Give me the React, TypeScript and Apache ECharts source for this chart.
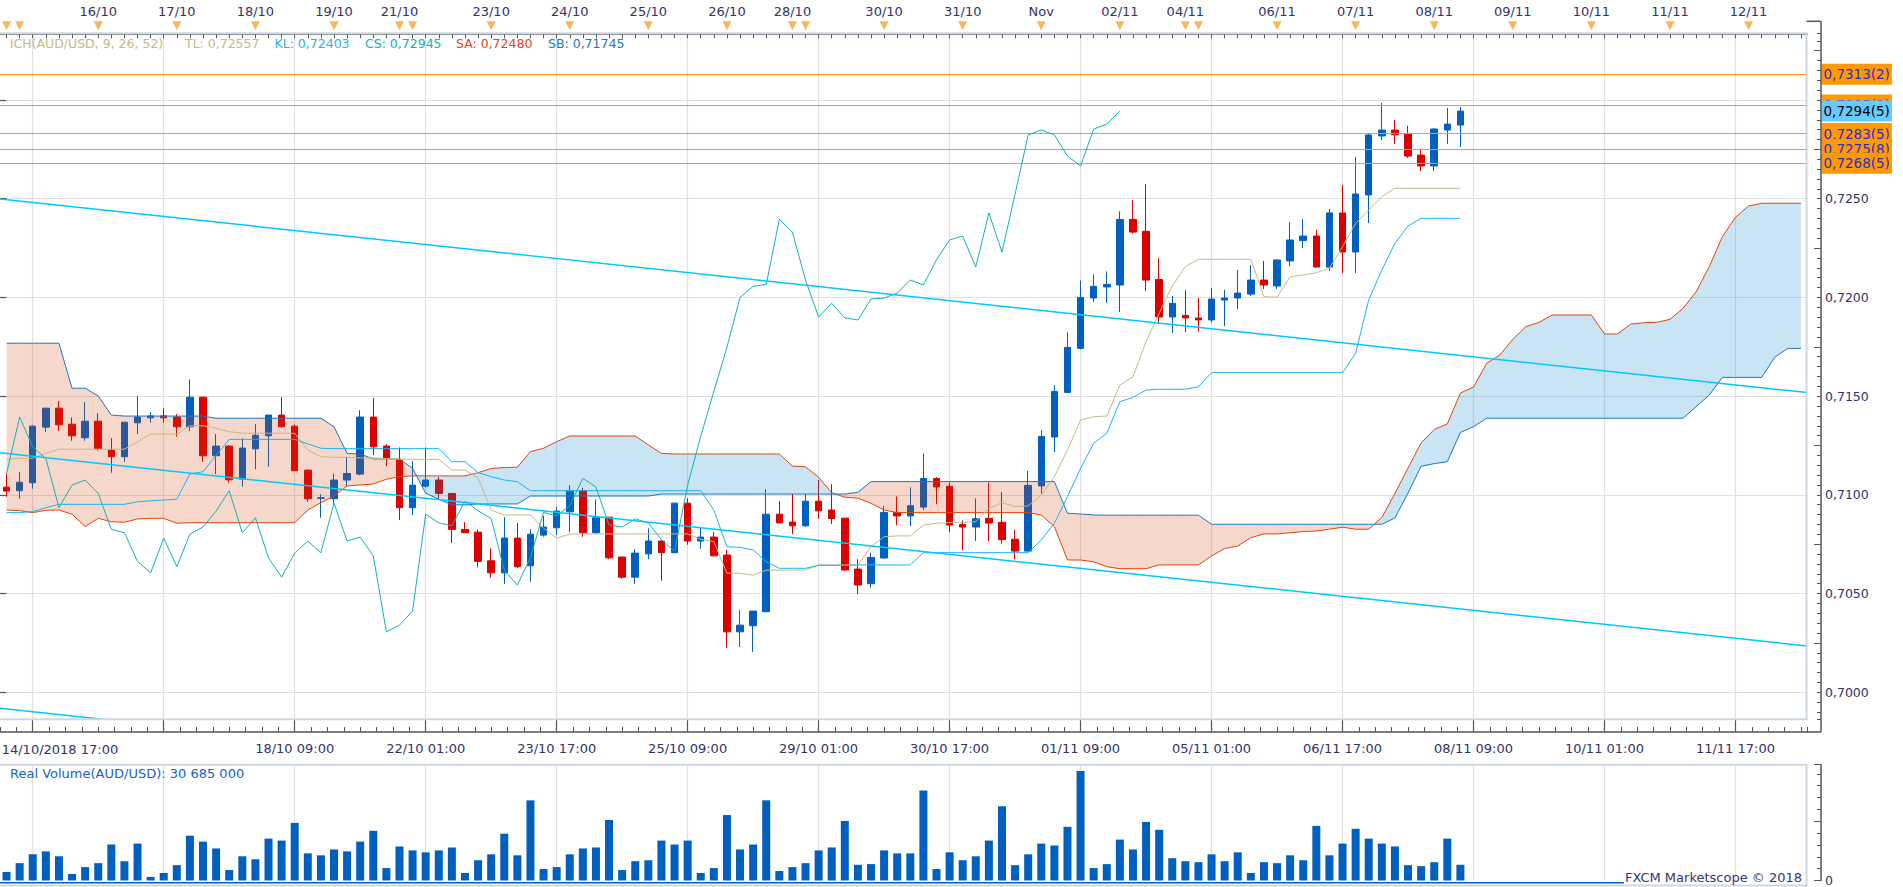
import React, { useEffect, useRef } from "react";
import * as echarts from "echarts";

const FONT = '"DejaVu Sans", Verdana, sans-serif';

// ---------- DATA ----------
const SLOT_COUNT = 138; // 112 candles + 26 future slots of the cloud

const OPEN = [
  0.71039, 0.71021, 0.71061, 0.71343, 0.71439, 0.71358, 0.71289, 0.71373, 0.71227, 0.71193,
  0.71365, 0.71390, 0.71400, 0.71394, 0.71345, 0.71495, 0.71198, 0.71247, 0.71080, 0.71233,
  0.71299, 0.71404, 0.71348, 0.71125, 0.70982, 0.70980, 0.71075, 0.71105, 0.71394, 0.71247,
  0.71176, 0.70935, 0.71044, 0.71075, 0.71007, 0.70825, 0.70811, 0.70666, 0.70605, 0.70781,
  0.70641, 0.70796, 0.70833, 0.70914, 0.71021, 0.70808, 0.70887, 0.70685, 0.70583, 0.70701,
  0.70766, 0.70707, 0.70958, 0.70766, 0.70786, 0.70695, 0.70306, 0.70337, 0.70408, 0.70902,
  0.70862, 0.70843, 0.70968, 0.70923, 0.70882, 0.70624, 0.70550, 0.70680, 0.70910, 0.70893,
  0.70938, 0.71083, 0.71043, 0.70850, 0.70837, 0.70881, 0.70861, 0.70775, 0.70715, 0.71045,
  0.71293, 0.71519, 0.71742, 0.71997, 0.72053, 0.72063, 0.72395, 0.72335, 0.72091, 0.71901,
  0.71909, 0.71896, 0.71886, 0.71987, 0.71997, 0.72017, 0.72088, 0.72058, 0.72185, 0.72288,
  0.72311, 0.72154, 0.72428, 0.72230, 0.72519, 0.72818, 0.72848, 0.72830, 0.72721, 0.72666,
  0.72848, 0.72873,
];
const HIGH = [
  0.71108, 0.71115, 0.71352, 0.71442, 0.71475, 0.71392, 0.71470, 0.71414, 0.71287, 0.71370,
  0.71500, 0.71419, 0.71439, 0.71409, 0.71584, 0.71497, 0.71308, 0.71252, 0.71287, 0.71358,
  0.71404, 0.71495, 0.71357, 0.71130, 0.71004, 0.71108, 0.71193, 0.71429, 0.71490, 0.71257,
  0.71240, 0.71171, 0.71240, 0.71091, 0.71007, 0.70862, 0.70825, 0.70728, 0.70887, 0.70858,
  0.70826, 0.70894, 0.70940, 0.71049, 0.71036, 0.70977, 0.70888, 0.70685, 0.70725, 0.70830,
  0.70767, 0.70960, 0.70983, 0.70835, 0.70811, 0.70720, 0.70416, 0.70412, 0.71029, 0.70968,
  0.71005, 0.71005, 0.71075, 0.71054, 0.70883, 0.70674, 0.70707, 0.70943, 0.70992, 0.71038,
  0.71210, 0.71090, 0.71062, 0.70871, 0.70982, 0.71062, 0.71014, 0.70822, 0.71121, 0.71328,
  0.71555, 0.71823, 0.72086, 0.72117, 0.72132, 0.72436, 0.72493, 0.72573, 0.72198, 0.72007,
  0.72036, 0.71997, 0.72048, 0.72038, 0.72139, 0.72164, 0.72185, 0.72190, 0.72382, 0.72397,
  0.72342, 0.72448, 0.72570, 0.72711, 0.72828, 0.72985, 0.72899, 0.72870, 0.72752, 0.72858,
  0.72960, 0.72965,
];
const LOW = [
  0.70990, 0.70980, 0.71031, 0.71319, 0.71324, 0.71274, 0.71274, 0.71223, 0.71112, 0.71167,
  0.71308, 0.71365, 0.71365, 0.71294, 0.71324, 0.71167, 0.71105, 0.71061, 0.71041, 0.71130,
  0.71142, 0.71340, 0.71120, 0.70965, 0.70884, 0.70956, 0.71041, 0.71098, 0.71201, 0.71145,
  0.70872, 0.70897, 0.71037, 0.70978, 0.70757, 0.70808, 0.70632, 0.70580, 0.70549, 0.70629,
  0.70560, 0.70788, 0.70796, 0.70811, 0.70788, 0.70801, 0.70674, 0.70575, 0.70549, 0.70674,
  0.70565, 0.70705, 0.70747, 0.70727, 0.70690, 0.70225, 0.70230, 0.70205, 0.70406, 0.70858,
  0.70801, 0.70838, 0.70879, 0.70853, 0.70615, 0.70497, 0.70530, 0.70678, 0.70845, 0.70842,
  0.70923, 0.70952, 0.70812, 0.70719, 0.70766, 0.70766, 0.70753, 0.70673, 0.70714, 0.71006,
  0.71217, 0.71516, 0.71737, 0.71977, 0.71972, 0.71926, 0.72324, 0.72032, 0.71865, 0.71820,
  0.71825, 0.71827, 0.71872, 0.71855, 0.71941, 0.72007, 0.72043, 0.72043, 0.72159, 0.72250,
  0.72154, 0.72134, 0.72124, 0.72124, 0.72377, 0.72797, 0.72777, 0.72706, 0.72640, 0.72640,
  0.72777, 0.72762,
];
const CLOSE = [
  0.71019, 0.71064, 0.71348, 0.71439, 0.71355, 0.71299, 0.71373, 0.71233, 0.71193, 0.71368,
  0.71394, 0.71400, 0.71390, 0.71345, 0.71495, 0.71198, 0.71247, 0.71076, 0.71237, 0.71302,
  0.71404, 0.71345, 0.71122, 0.70980, 0.70985, 0.71075, 0.71108, 0.71394, 0.71243, 0.71184,
  0.70935, 0.71049, 0.71075, 0.71007, 0.70825, 0.70808, 0.70663, 0.70605, 0.70781, 0.70636,
  0.70801, 0.70837, 0.70918, 0.71021, 0.70808, 0.70884, 0.70681, 0.70583, 0.70705, 0.70766,
  0.70707, 0.70958, 0.70766, 0.70786, 0.70691, 0.70306, 0.70340, 0.70411, 0.70902, 0.70858,
  0.70843, 0.70968, 0.70919, 0.70880, 0.70619, 0.70543, 0.70683, 0.70911, 0.70893, 0.70945,
  0.71083, 0.71040, 0.70847, 0.70837, 0.70879, 0.70857, 0.70773, 0.70715, 0.71048, 0.71296,
  0.71524, 0.71747, 0.72000, 0.72056, 0.72066, 0.72395, 0.72331, 0.72088, 0.71901, 0.71970,
  0.71896, 0.71886, 0.71992, 0.71997, 0.72022, 0.72088, 0.72063, 0.72190, 0.72291, 0.72311,
  0.72154, 0.72428, 0.72230, 0.72524, 0.72823, 0.72848, 0.72824, 0.72716, 0.72666, 0.72853,
  0.72878, 0.72944,
];

// volume, millions
const VOLUME = [
  16.6, 33.9, 51.1, 56.9, 47.3, 12.8, 26.2, 33.9, 70.3, 37.7,
  72.2, 7.0, 14.7, 30.0, 87.5, 76.0, 62.6, 20.4, 47.3, 41.5,
  81.8, 78.0, 112.5, 53.0, 49.2, 60.7, 56.9, 76.0, 97.1, 24.3,
  66.5, 58.8, 55.0, 58.8, 64.5, 14.7, 39.6, 51.1, 91.4, 49.2,
  156.6, 22.4, 26.2, 51.1, 62.6, 64.5, 118.2, 20.4, 37.7, 39.6,
  78.0, 70.3, 78.0, 14.7, 24.3, 127.8, 60.7, 70.3, 156.6, 18.5,
  26.2, 33.9, 58.8, 64.5, 116.3, 30.7, 32.0, 58.8, 53.0, 53.0,
  175.7, 22.4, 55.0, 39.6, 47.3, 78.0, 145.1, 30.0, 51.1, 72.2,
  68.4, 104.8, 214.1, 24.3, 32.0, 79.9, 60.7, 114.4, 99.0, 43.5,
  37.7, 35.8, 51.1, 37.7, 55.0, 14.7, 35.8, 33.9, 49.2, 39.6,
  106.7, 49.2, 72.2, 101.0, 81.8, 72.2, 66.5, 30.0, 28.1, 35.8,
  81.8, 30.685,
];

const TENKAN = [
  0.71180, 0.71185, 0.71185, 0.71210, 0.71231, 0.71231, 0.71231, 0.71231, 0.71231, 0.71231,
  0.71269, 0.71308, 0.71308, 0.71308, 0.71350, 0.71350, 0.71337, 0.71320, 0.71312, 0.71312,
  0.71312, 0.71312, 0.71312, 0.71227, 0.71193, 0.71190, 0.71190, 0.71187, 0.71187, 0.71184,
  0.71182, 0.71180, 0.71180, 0.71180, 0.71126, 0.71126, 0.71085, 0.70923, 0.70898, 0.70898,
  0.70898, 0.70831, 0.70780, 0.70802, 0.70802, 0.70802, 0.70802, 0.70802, 0.70802, 0.70802,
  0.70802, 0.70802, 0.70802, 0.70775, 0.70763, 0.70603, 0.70603, 0.70593, 0.70619, 0.70619,
  0.70619, 0.70619, 0.70645, 0.70645, 0.70645, 0.70645, 0.70737, 0.70788, 0.70792, 0.70792,
  0.70847, 0.70856, 0.70859, 0.70861, 0.70864, 0.70932, 0.70960, 0.70940, 0.70944, 0.70999,
  0.71092, 0.71227, 0.71379, 0.71396, 0.71399, 0.71556, 0.71598, 0.71776, 0.71920, 0.72058,
  0.72156, 0.72193, 0.72193, 0.72193, 0.72193, 0.72193, 0.72004, 0.72001, 0.72105, 0.72114,
  0.72125, 0.72148, 0.72257, 0.72375, 0.72443, 0.72510, 0.72553, 0.72553, 0.72553, 0.72553,
  0.72553, 0.72553,
];
const KIJUN = [
  0.70910, 0.70910, 0.70915, 0.70935, 0.70952, 0.70952, 0.70952, 0.70952, 0.70952, 0.70952,
  0.70965, 0.70970, 0.70974, 0.70978, 0.71106, 0.71117, 0.71200, 0.71281, 0.71281, 0.71281,
  0.71281, 0.71281, 0.71281, 0.71258, 0.71236, 0.71234, 0.71234, 0.71234, 0.71234, 0.71234,
  0.71234, 0.71234, 0.71234, 0.71234, 0.71168, 0.71168, 0.71113, 0.71092, 0.71075, 0.71067,
  0.71021, 0.71021, 0.71021, 0.71021, 0.71021, 0.71021, 0.71021, 0.71021, 0.71021, 0.71021,
  0.71021, 0.71021, 0.71021, 0.71021, 0.70923, 0.70737, 0.70734, 0.70721, 0.70661, 0.70628,
  0.70628, 0.70628, 0.70643, 0.70643, 0.70643, 0.70645, 0.70645, 0.70645, 0.70645, 0.70645,
  0.70707, 0.70707, 0.70707, 0.70707, 0.70707, 0.70707, 0.70707, 0.70707, 0.70707, 0.70771,
  0.70856, 0.70991, 0.71134, 0.71261, 0.71312, 0.71472, 0.71494, 0.71531, 0.71535, 0.71535,
  0.71535, 0.71548, 0.71619, 0.71619, 0.71619, 0.71619, 0.71619, 0.71619, 0.71619, 0.71619,
  0.71619, 0.71619, 0.71619, 0.71717, 0.71987, 0.72139, 0.72274, 0.72362, 0.72401, 0.72401,
  0.72401, 0.72401,
];
const SENKOU_A = [
  0.70923, 0.70920, 0.70910, 0.70922, 0.70923, 0.70902, 0.70839, 0.70881, 0.70864, 0.70861,
  0.70878, 0.70881, 0.70881, 0.70856, 0.70859, 0.70859, 0.70859, 0.70859, 0.70859, 0.70859,
  0.70859, 0.70859, 0.70859, 0.70923, 0.70960, 0.70994, 0.71045, 0.71050, 0.71055, 0.71079,
  0.71092, 0.71096, 0.71096, 0.71096, 0.71096, 0.71096, 0.71112, 0.71134, 0.71138, 0.71140,
  0.71219, 0.71236, 0.71269, 0.71298, 0.71298, 0.71298, 0.71298, 0.71298, 0.71298, 0.71253,
  0.71210, 0.71207, 0.71207, 0.71207, 0.71207, 0.71207, 0.71207, 0.71207, 0.71207, 0.71207,
  0.71146, 0.71142, 0.71089, 0.71011, 0.70988, 0.70983, 0.70957, 0.70923, 0.70910, 0.70910,
  0.70910, 0.70910, 0.70910, 0.70910, 0.70910, 0.70910, 0.70910, 0.70910, 0.70910, 0.70898,
  0.70839, 0.70670, 0.70670, 0.70661, 0.70636, 0.70626, 0.70626, 0.70626, 0.70645, 0.70645,
  0.70645, 0.70645, 0.70690, 0.70728, 0.70741, 0.70783, 0.70802, 0.70802, 0.70808, 0.70814,
  0.70817, 0.70826, 0.70836, 0.70826, 0.70826, 0.70885, 0.71007, 0.71136, 0.71263, 0.71331,
  0.71359, 0.71516, 0.71546, 0.71666, 0.71708, 0.71788, 0.71852, 0.71874, 0.71911, 0.71911,
  0.71911, 0.71911, 0.71815, 0.71815, 0.71865, 0.71872, 0.71874, 0.71889, 0.71945, 0.72029,
  0.72156, 0.72308, 0.72406, 0.72463, 0.72477, 0.72477, 0.72477, 0.72477,
];
const SENKOU_B = [
  0.71768, 0.71768, 0.71768, 0.71768, 0.71768, 0.71540, 0.71540, 0.71501, 0.71404, 0.71399,
  0.71399, 0.71399, 0.71399, 0.71399, 0.71399, 0.71399, 0.71388, 0.71388, 0.71388, 0.71388,
  0.71388, 0.71388, 0.71388, 0.71388, 0.71388, 0.71345, 0.71210, 0.71207, 0.71182, 0.71182,
  0.71182, 0.71134, 0.71008, 0.70978, 0.70949, 0.70949, 0.70954, 0.70954, 0.70954, 0.70954,
  0.70994, 0.70994, 0.70994, 0.70994, 0.70994, 0.70994, 0.70994, 0.70994, 0.70994, 0.70994,
  0.71004, 0.71004, 0.71004, 0.71004, 0.71004, 0.71004, 0.71004, 0.71004, 0.71004, 0.71004,
  0.71004, 0.71004, 0.71004, 0.71004, 0.71004, 0.71013, 0.71067, 0.71067, 0.71067, 0.71067,
  0.71067, 0.71067, 0.71067, 0.71067, 0.71067, 0.71067, 0.71067, 0.71067, 0.71067, 0.71067,
  0.71067, 0.70907, 0.70903, 0.70898, 0.70897, 0.70897, 0.70897, 0.70897, 0.70897, 0.70897,
  0.70897, 0.70897, 0.70851, 0.70851, 0.70851, 0.70851, 0.70851, 0.70851, 0.70851, 0.70851,
  0.70851, 0.70851, 0.70851, 0.70851, 0.70851, 0.70851, 0.70883, 0.71009, 0.71145, 0.71158,
  0.71168, 0.71316, 0.71345, 0.71388, 0.71388, 0.71388, 0.71388, 0.71388, 0.71388, 0.71388,
  0.71388, 0.71388, 0.71388, 0.71388, 0.71388, 0.71388, 0.71388, 0.71388, 0.71388, 0.71447,
  0.71506, 0.71595, 0.71595, 0.71595, 0.71595, 0.71697, 0.71742, 0.71742,
];
const CHIKOU_SHIFT = 26; // the lagging span is the close, drawn 26 slots back

// hand-drawn trend lines: [slot, price] end points
const TRENDLINE_UPPER = [[-0.5, 0.72499], [137.5, 0.71518]];
const TRENDLINE_MIDDLE = [[-0.5, 0.71213], [137.5, 0.70234]];
const TRENDLINE_LOWER = [[-0.5, 0.69919], [137.5, 0.68938]];

// horizontal level lines with their right-hand price boxes
const LEVEL_PRICES = [0.7313, 0.72975, 0.7283, 0.7275, 0.7268];
const LEVEL_TEXTS = ["0,7313(2)", "0,7297(3)", "0,7283(5)", "0,7275(8)", "0,7268(5)"];
const LAST_PRICE = 0.72945;
const LAST_PRICE_TEXT = "0,7294(5)";

const PRICE_MIN = 0.69863;
const PRICE_MAX = 0.73338;
const PRICE_MID_TICKS = [0.6975, 0.7025, 0.7075, 0.7125, 0.7175, 0.7225, 0.7275, 0.7325];

const DAY_START_SLOTS = [0, 1, 7, 13, 19, 25, 30, 31, 37, 43, 49, 55, 60, 61, 67, 73, 79, 85, 90, 91, 97, 103, 109, 115, 121, 127, 133];
const DAY_LABEL_SLOTS = [7, 13, 19, 25, 30, 37, 43, 49, 55, 60, 67, 73, 79, 85, 90, 97, 103, 109, 115, 121, 127, 133];
const DAY_LABELS = ["16/10", "17/10", "18/10", "19/10", "21/10", "23/10", "24/10", "25/10", "26/10", "28/10", "30/10", "31/10", "Nov", "02/11", "04/11", "06/11", "07/11", "08/11", "09/11", "10/11", "11/11", "12/11"];

const TIME_LABEL_SLOTS = [0, 22, 32, 42, 52, 62, 72, 82, 92, 102, 112, 122, 132];
const TIME_LABELS = ["14/10/2018 17:00", "18/10 09:00", "22/10 01:00", "23/10 17:00", "25/10 09:00", "29/10 01:00", "30/10 17:00", "01/11 09:00", "05/11 01:00", "06/11 17:00", "08/11 09:00", "10/11 01:00", "11/11 17:00"];
const GRID_SLOTS = [2, 12, 22, 32, 42, 52, 62, 72, 82, 92, 102, 112, 122, 132];

const LEGEND_TEXTS = ["ICH(AUD/USD, 9, 26, 52)", "TL: 0,72557", "KL: 0,72403", "CS: 0,72945", "SA: 0,72480", "SB: 0,71745"];
const VOLUME_TITLE = "Real Volume(AUD/USD): 30 685 000";
const COPYRIGHT = "FXCM Marketscope \u00a9 2018";

// ---------- STYLE / LAYOUT ----------
const C_UP = "#0060c0";
const C_DOWN = "#dd0000";
const C_TENKAN = "#c4ba84";
const C_KIJUN = "#1cb4f0";
const C_CHIKOU = "#12b2b2";
const C_SA = "#e2460f";
const C_SB = "#1a78c0";
const C_TREND = "#00c8ff";
const C_LEVEL = "#ff9900";
const FILL_BULL = "rgba(11,133,200,0.22)";
const FILL_BEAR = "rgba(207,67,10,0.21)";
const C_GRID = "#e0e0e0";
const C_FRAME = "#cfd8e2";
const C_AXIS = "#555555";
const C_TEXT = "#333366";

const PLOT_LEFT = 0;
const PLOT_W = 1807.5;
const MAIN_TOP = 33.3;
const MAIN_H = 686;
const STRIP_TOP = 21.3;
const STRIP_H = 12;
const VOL_TOP = 764.7;
const VOL_H = 118;
const AXIS_X = 1821;
const BOTTOM_AXIS_Y = 732;
const VOL_MAX = 226.2;
const VOL_INTERVAL = 115.8;

function cloudRender(_params: any, api: any) {
  const regions: any[] = [];
  let cur: any = null;
  for (let i = 0; i < SENKOU_A.length; i++) {
    const a = SENKOU_A[i];
    const b = SENKOU_B[i];
    const sign = a >= b ? 1 : -1;
    const pa = api.coord([i, a]);
    const pb = api.coord([i, b]);
    if (!cur) {
      cur = { sign, top: [pa], bot: [pb] };
    } else if (sign === cur.sign) {
      cur.top.push(pa);
      cur.bot.push(pb);
    } else {
      const dp = SENKOU_A[i - 1] - SENKOU_B[i - 1];
      const d = a - b;
      const t = dp / (dp - d);
      const prev = api.coord([i - 1, SENKOU_A[i - 1]]);
      const ip = [prev[0] + t * (pa[0] - prev[0]), prev[1] + t * (pa[1] - prev[1])];
      cur.top.push(ip);
      cur.bot.push(ip);
      regions.push(cur);
      cur = { sign, top: [ip, pa], bot: [ip, pb] };
    }
  }
  if (cur) regions.push(cur);
  return {
    type: "group",
    children: regions.map((r) => ({
      type: "polygon",
      silent: true,
      shape: { points: r.top.concat(r.bot.slice().reverse()) },
      style: { fill: r.sign > 0 ? FILL_BULL : FILL_BEAR, stroke: null, lineWidth: 0 },
    })),
  };
}

function priceLabel(v: number) {
  const k = v * 200;
  if (Math.abs(k - Math.round(k)) > 1e-6) return "";
  return v.toFixed(4).replace(".", ",");
}

function text(x: number, y: number, t: string, color: string, size: number, align = "left", extra: any = {}) {
  return {
    type: "text",
    x,
    y,
    silent: true,
    z: 50,
    style: {
      text: t,
      fill: color,
      fontSize: size,
      fontFamily: FONT,
      align,
      textAlign: align,
      verticalAlign: "middle",
      textVerticalAlign: "middle",
      ...extra,
    },
  };
}
function hline(x1: number, x2: number, y: number, color: string, w: number) {
  return { type: "line", silent: true, z: 40, shape: { x1, y1: y, x2, y2: y }, style: { stroke: color, lineWidth: w } };
}
function vline(x: number, y1: number, y2: number, color: string, w: number) {
  return { type: "line", silent: true, z: 40, shape: { x1: x, y1, x2: x, y2 }, style: { stroke: color, lineWidth: w } };
}

function buildOption() {
  const slots = Array.from({ length: SLOT_COUNT }, (_, i) => String(i));
  const candles = OPEN.map((o, i) => [o, CLOSE[i], LOW[i], HIGH[i]]);
  const chikou = CLOSE.slice(CHIKOU_SHIFT);
  const legendX = [9.8, 185, 274.5, 365, 456, 548];
  const legendColors = [C_TENKAN, C_TENKAN, C_KIJUN, C_CHIKOU, C_SA, C_SB];
  const isGrid = (i: number) => GRID_SLOTS.indexOf(i) >= 0;

  const boxLabel = (formatter: string, bg: string, color: string) => ({
    show: true,
    position: "end",
    distance: 14,
    formatter,
    backgroundColor: bg,
    color,
    fontSize: 13.5,
    fontFamily: FONT,
    lineHeight: 14,
    padding: [4, 2, 3, 2],
    opacity: 1,
  });
  const markLineData: any[] = LEVEL_PRICES.map((p, k) => ({
    yAxis: p,
    lineStyle: { color: C_LEVEL, width: 1.2, type: "solid", opacity: 1 },
    label: boxLabel(LEVEL_TEXTS[k], C_LEVEL, "#2b2bd6"),
  }));
  markLineData.push({
    yAxis: LAST_PRICE,
    lineStyle: { color: "rgba(102,204,255,0)", width: 1, type: "solid", opacity: 1 },
    label: boxLabel(LAST_PRICE_TEXT, "#66ccff", "#000000"),
  });

  const lineSeries = (name: string, data: number[], color: string) => ({
    name,
    type: "line",
    xAxisIndex: 0,
    yAxisIndex: 0,
    data,
    symbol: "none",
    showSymbol: false,
    silent: true,
    z: 5,
    lineStyle: { color, width: 1 },
  });
  const trendSeries = (data: number[][]) => ({
    type: "line",
    xAxisIndex: 1,
    yAxisIndex: 0,
    data,
    symbol: "none",
    silent: true,
    z: 5,
    clip: true,
    lineStyle: { color: C_TREND, width: 1.5 },
  });

  return {
    animation: false,
    backgroundColor: "#ffffff",
    textStyle: { fontFamily: FONT },
    grid: [
      { left: PLOT_LEFT, top: MAIN_TOP, width: PLOT_W, height: MAIN_H },
      { left: PLOT_LEFT, top: STRIP_TOP, width: PLOT_W, height: STRIP_H },
      { left: PLOT_LEFT, top: VOL_TOP, width: PLOT_W, height: VOL_H },
    ],
    xAxis: [
      {
        type: "category",
        gridIndex: 0,
        data: slots,
        boundaryGap: true,
        position: "bottom",
        offset: BOTTOM_AXIS_Y - (MAIN_TOP + MAIN_H),
        axisLine: { show: true, lineStyle: { color: C_AXIS, width: 1.5 } },
        axisTick: {
          show: true,
          inside: true,
          length: 12,
          alignWithLabel: true,
          interval: (i: number) => isGrid(i),
          lineStyle: { color: C_AXIS, width: 1.2 },
        },
        axisLabel: {
          show: true,
          interval: (i: number) => i > 0 && TIME_LABEL_SLOTS.indexOf(i) >= 0,
          formatter: (_v: string, i: number) => {
            const k = TIME_LABEL_SLOTS.indexOf(i);
            return k > 0 ? TIME_LABELS[k] : "";
          },
          color: C_TEXT,
          fontSize: 13,
          fontFamily: FONT,
          margin: 10,
        },
        splitLine: {
          show: true,
          alignWithLabel: true,
          interval: (i: number) => isGrid(i),
          lineStyle: { color: C_GRID, width: 1.2 },
        },
      },
      {
        type: "value",
        gridIndex: 0,
        min: -0.5,
        max: SLOT_COUNT - 0.5,
        interval: 1.25,
        position: "bottom",
        offset: BOTTOM_AXIS_Y - (MAIN_TOP + MAIN_H),
        axisLine: { show: false },
        axisTick: { show: true, inside: true, length: 5, lineStyle: { color: C_AXIS, width: 1 } },
        axisLabel: { show: false },
        splitLine: { show: false },
      },
      {
        type: "category",
        gridIndex: 1,
        data: slots,
        boundaryGap: true,
        position: "top",
        axisLine: { show: true, lineStyle: { color: C_AXIS, width: 1.5 } },
        axisTick: { show: true, inside: true, length: 5, alignWithLabel: true, interval: 0, lineStyle: { color: C_AXIS, width: 1 } },
        axisLabel: {
          show: true,
          interval: (i: number) => DAY_LABEL_SLOTS.indexOf(i) >= 0,
          formatter: (_v: string, i: number) => {
            const k = DAY_LABEL_SLOTS.indexOf(i);
            return k >= 0 ? DAY_LABELS[k] : "";
          },
          color: C_TEXT,
          fontSize: 13,
          fontFamily: FONT,
          margin: 3,
        },
        splitLine: { show: false },
      },
      {
        type: "category",
        gridIndex: 2,
        data: slots,
        boundaryGap: true,
        axisLine: { show: false },
        axisTick: { show: false },
        axisLabel: { show: false },
        splitLine: {
          show: true,
          alignWithLabel: true,
          interval: (i: number) => isGrid(i),
          lineStyle: { color: C_GRID, width: 1.2 },
        },
      },
    ],
    yAxis: [
      {
        type: "value",
        gridIndex: 0,
        min: PRICE_MIN,
        max: PRICE_MAX,
        splitNumber: 7,
        position: "right",
        offset: AXIS_X - PLOT_W,
        scale: true,
        axisLine: { show: false },
        axisTick: { show: true, inside: true, length: 13, lineStyle: { color: C_AXIS, width: 1.2 } },
        axisLabel: {
          show: true,
          formatter: priceLabel,
          showMinLabel: false,
          showMaxLabel: false,
          color: C_TEXT,
          fontSize: 12.5,
          fontFamily: FONT,
          margin: 4,
        },
        splitLine: { show: true, lineStyle: { color: C_GRID, width: 1.2 } },
      },
      {
        type: "value",
        gridIndex: 0,
        min: PRICE_MIN,
        max: PRICE_MAX,
        splitNumber: 70,
        position: "right",
        offset: AXIS_X - PLOT_W,
        scale: true,
        axisLine: { show: false },
        axisTick: { show: true, inside: true, length: 4, lineStyle: { color: C_AXIS, width: 1 } },
        axisLabel: { show: false },
        splitLine: { show: false },
      },
      {
        type: "value",
        gridIndex: 0,
        min: PRICE_MIN,
        max: PRICE_MAX,
        position: "right",
        offset: AXIS_X - PLOT_W,
        scale: true,
        axisLine: { show: false },
        axisTick: { show: true, inside: true, length: 7, customValues: PRICE_MID_TICKS, lineStyle: { color: C_AXIS, width: 1 } },
        axisLabel: { show: false },
        splitLine: { show: false },
      },
      { type: "value", gridIndex: 1, min: 0, max: 1, show: false },
      {
        type: "value",
        gridIndex: 2,
        min: 0,
        max: VOL_MAX,
        interval: VOL_INTERVAL,
        position: "right",
        offset: AXIS_X - PLOT_W,
        axisLine: { show: true, lineStyle: { color: C_AXIS, width: 1.5 } },
        axisTick: { show: true, inside: true, length: 7, lineStyle: { color: C_AXIS, width: 1 } },
        minorTick: { show: true, splitNumber: 5, length: 4, lineStyle: { color: C_AXIS, width: 1 } },
        axisLabel: {
          show: true,
          formatter: (v: number) => (v === 0 ? "0" : ""),
          color: C_TEXT,
          fontSize: 12.5,
          fontFamily: FONT,
          margin: 4,
        },
        splitLine: { show: false },
      },
    ],
    series: [
      {
        type: "candlestick",
        xAxisIndex: 0,
        yAxisIndex: 0,
        data: candles,
        barWidth: 7,
        z: 3,
        silent: true,
        clip: false,
        itemStyle: { color: C_UP, color0: C_DOWN, borderColor: C_UP, borderColor0: C_DOWN, borderWidth: 1 },
        markLine: {
          silent: true,
          symbol: ["none", "none"],
          animation: false,
          precision: 5,
          data: markLineData,
        },
      },
      {
        type: "custom",
        xAxisIndex: 0,
        yAxisIndex: 0,
        data: [[0, SENKOU_A[0]]],
        encode: { x: 0, y: 1 },
        renderItem: cloudRender,
        clip: true,
        silent: true,
        z: 4,
      },
      lineSeries("SA", SENKOU_A, C_SA),
      lineSeries("SB", SENKOU_B, C_SB),
      lineSeries("TL", TENKAN, C_TENKAN),
      lineSeries("KL", KIJUN, C_KIJUN),
      lineSeries("CS", chikou, C_CHIKOU),
      trendSeries(TRENDLINE_UPPER),
      trendSeries(TRENDLINE_MIDDLE),
      trendSeries(TRENDLINE_LOWER),
      {
        type: "scatter",
        xAxisIndex: 2,
        yAxisIndex: 3,
        data: DAY_START_SLOTS.map((s) => [s, 0.62]),
        symbol: "triangle",
        symbolRotate: 180,
        symbolSize: [9, 9],
        clip: false,
        silent: true,
        z: 6,
        itemStyle: { color: "#f6a531" },
      },
      {
        type: "bar",
        xAxisIndex: 3,
        yAxisIndex: 4,
        data: VOLUME,
        barWidth: 8,
        silent: true,
        z: 3,
        itemStyle: { color: C_UP },
      },
    ],
    graphic: [
      ...LEGEND_TEXTS.map((t, k) => text(legendX[k], 43.3, t, legendColors[k], 12.5)),
      text(10, 773.3, VOLUME_TITLE, "#1763c6", 13),
      text(1.7, 749.3, TIME_LABELS[0], C_TEXT, 13),
      // panel frames
      hline(0, PLOT_W, MAIN_TOP, C_FRAME, 2),
      hline(0, PLOT_W, MAIN_TOP + MAIN_H, C_FRAME, 2),
      vline(PLOT_W - 1, MAIN_TOP, MAIN_TOP + MAIN_H + 1, C_FRAME, 2),
      hline(0, PLOT_W, VOL_TOP, C_FRAME, 2),
      vline(PLOT_W - 1, VOL_TOP, 887, C_FRAME, 2),
      hline(0, PLOT_W, 885.5, C_FRAME, 2),
      // axis lines
      vline(AXIS_X, STRIP_TOP, BOTTOM_AXIS_Y, C_AXIS, 1.5),
      hline(PLOT_W - 1, AXIS_X, BOTTOM_AXIS_Y, C_AXIS, 1.5),
      hline(PLOT_W - 1, AXIS_X, STRIP_TOP, C_AXIS, 1.5),
      // volume baseline + copyright
      hline(0, 1624, VOL_TOP + VOL_H, C_UP, 1.5),
      text(1625, 877, COPYRIGHT, "#35356b", 13),
    ],
  };
}

export default function App() {
  const ref = useRef<HTMLDivElement>(null);
  useEffect(() => {
    if (!ref.current) return;
    const chart = echarts.init(ref.current, undefined, { renderer: "svg", width: 1903, height: 887 });
    chart.setOption(buildOption() as any);
    return () => chart.dispose();
  }, []);
  return (
    <div
      ref={ref}
      style={{ position: "fixed", left: 0, top: 0, width: 1903, height: 887, background: "#ffffff" }}
    />
  );
}
